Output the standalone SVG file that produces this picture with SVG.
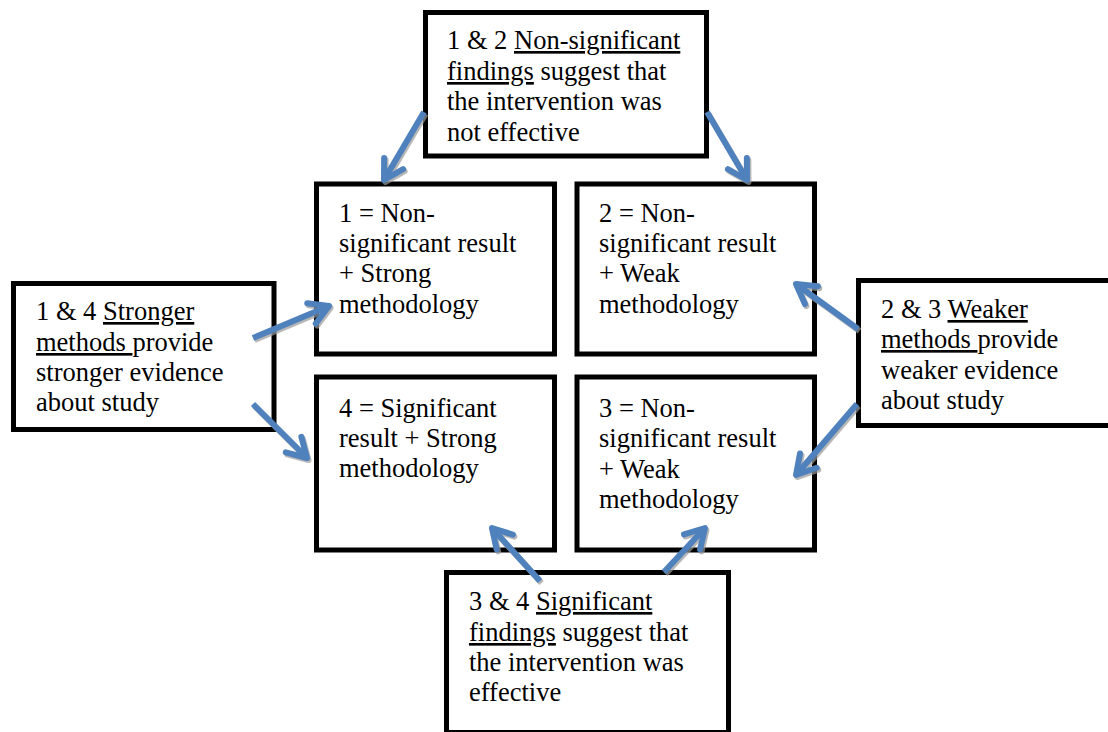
<svg xmlns="http://www.w3.org/2000/svg" width="1108" height="732" viewBox="0 0 1108 732">
<style>
.box{fill:#fff;stroke:#000;stroke-width:5}
text{font-family:"Liberation Serif","Times New Roman",serif;font-size:26.5px;fill:#000}
.u{text-decoration:underline}
.ln{fill:none;stroke:#4F81BD;stroke-width:6}
.sh{fill:none;stroke:#9a9a9a;stroke-width:6;opacity:0.7}
</style>
<defs>
<marker id="ah" markerUnits="userSpaceOnUse" orient="auto" markerWidth="50" markerHeight="50" viewBox="-30 -25 50 50" refX="0" refY="0" overflow="visible">
<path d="M-19,-11 L0,0 L-19,11" fill="none" stroke="#4F81BD" stroke-width="6" stroke-linejoin="round" stroke-linecap="round"/>
</marker>
<marker id="ahs" markerUnits="userSpaceOnUse" orient="auto" markerWidth="50" markerHeight="50" viewBox="-30 -25 50 50" refX="0" refY="0" overflow="visible">
<path d="M-19,-11 L0,0 L-19,11" fill="none" stroke="#9a9a9a" stroke-width="6" stroke-linejoin="round" stroke-linecap="round"/>
</marker>
</defs>
<rect width="1108" height="732" fill="#fff"/>
<g id="top">
<rect class="box" x="425.5" y="12.5" width="281" height="143.5"/>
<text x="447" y="49">1 &amp; 2 <tspan class="u">Non-significant</tspan></text>
<text x="447" y="80"><tspan class="u">findings</tspan> suggest that</text>
<text x="447" y="110">the intervention was</text>
<text x="447" y="141">not effective</text>
</g>
<g id="n1">
<rect class="box" x="316.5" y="184" width="238" height="170"/>
<text x="339" y="222">1 = Non-</text>
<text x="339" y="252">significant result</text>
<text x="339" y="282">+ Strong</text>
<text x="339" y="313">methodology</text>
</g>
<g id="n2">
<rect class="box" x="577" y="184" width="237.5" height="170"/>
<text x="599" y="222">2 = Non-</text>
<text x="599" y="252">significant result</text>
<text x="599" y="282">+ Weak</text>
<text x="599" y="313">methodology</text>
</g>
<g id="n4">
<rect class="box" x="316.5" y="377" width="238" height="173"/>
<text x="339" y="417">4 = Significant</text>
<text x="339" y="447">result + Strong</text>
<text x="339" y="477">methodology</text>
</g>
<g id="n3">
<rect class="box" x="577" y="377" width="237.5" height="173"/>
<text x="599" y="417">3 = Non-</text>
<text x="599" y="447">significant result</text>
<text x="599" y="478">+ Weak</text>
<text x="599" y="508">methodology</text>
</g>
<g id="left">
<rect class="box" x="13.5" y="283.5" width="260.5" height="146"/>
<text x="36" y="320" xml:space="preserve">1 &amp; 4 <tspan class="u">Stronger</tspan></text>
<text x="36" y="351" xml:space="preserve"><tspan class="u">methods </tspan>provide</text>
<text x="36" y="381">stronger evidence</text>
<text x="36" y="411">about study</text>
</g>
<g id="right">
<rect class="box" x="858.5" y="280.5" width="255" height="145"/>
<text x="881" y="318" xml:space="preserve">2 &amp; 3 <tspan class="u">Weaker</tspan></text>
<text x="881" y="348" xml:space="preserve"><tspan class="u">methods </tspan>provide</text>
<text x="881" y="379">weaker evidence</text>
<text x="881" y="409">about study</text>
</g>
<g id="bottom">
<rect class="box" x="446.5" y="572.5" width="282" height="160"/>
<text x="469" y="610">3 &amp; 4 <tspan class="u">Significant</tspan></text>
<text x="469" y="641"><tspan class="u">findings</tspan> suggest that</text>
<text x="469" y="671">the intervention was</text>
<text x="469" y="701">effective</text>
</g>
<g id="connectors">
<g transform="translate(1.5,2)">
<path class="sh" marker-end="url(#ahs)" d="M424,112 L384,180"/>
<path class="sh" marker-end="url(#ahs)" d="M707,112 L747,180"/>
<path class="sh" marker-end="url(#ahs)" d="M253,338 L329,306"/>
<path class="sh" marker-end="url(#ahs)" d="M253,404 L307,458"/>
<path class="sh" marker-end="url(#ahs)" d="M858,329 L796,284"/>
<path class="sh" marker-end="url(#ahs)" d="M857,404 L796,475"/>
<path class="sh" marker-end="url(#ahs)" d="M540,581 L492,528"/>
<path class="sh" marker-end="url(#ahs)" d="M664,572 L705,528"/>
</g>
<path class="ln" marker-end="url(#ah)" d="M424,112 L384,180"/>
<path class="ln" marker-end="url(#ah)" d="M707,112 L747,180"/>
<path class="ln" marker-end="url(#ah)" d="M253,338 L329,306"/>
<path class="ln" marker-end="url(#ah)" d="M253,404 L307,458"/>
<path class="ln" marker-end="url(#ah)" d="M858,329 L796,284"/>
<path class="ln" marker-end="url(#ah)" d="M857,404 L796,475"/>
<path class="ln" marker-end="url(#ah)" d="M540,581 L492,528"/>
<path class="ln" marker-end="url(#ah)" d="M664,572 L705,528"/>
</g>
</svg>
